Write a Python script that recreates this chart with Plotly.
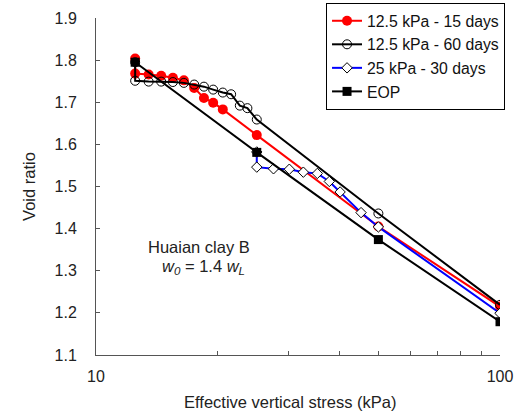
import plotly.graph_objects as go

# 12.5 kPa - 15 days
red_x = [12.5, 12.5, 13.5, 14.5, 15.5, 16.5, 17.5, 18.5, 19.5, 20.6, 25, 50, 100]
red_y = [1.804, 1.768, 1.766, 1.763, 1.758, 1.752, 1.734, 1.710, 1.699, 1.683, 1.622, 1.405, 1.215]

# 12.5 kPa - 60 days
blk_x = [12.5, 12.5, 13.5, 14.5, 15.5, 16.5, 17.5, 18.5, 19.5, 20.6, 21.6, 22.7, 23.7, 25, 50, 100]
blk_y = [1.795, 1.751, 1.749, 1.749, 1.748, 1.746, 1.742, 1.737, 1.730, 1.723, 1.719, 1.692, 1.686, 1.659, 1.436, 1.219]

# 25 kPa - 30 days
blu_x = [25, 25, 27.5, 30.1, 32.6, 35.3, 37.8, 40.2, 45.3, 50, 100]
blu_y = [1.582, 1.546, 1.542, 1.541, 1.534, 1.531, 1.512, 1.487, 1.438, 1.404, 1.199]

# EOP
eop_x = [12.5, 25, 50, 100]
eop_y = [1.795, 1.581, 1.374, 1.179]

x_major = [10, 100]
x_major_text = ["10", "100"]
x_minor = [20, 30, 40, 50, 60, 70, 80, 90]
y_tickvals = [1.1, 1.2, 1.3, 1.4, 1.5, 1.6, 1.7, 1.8, 1.9]

FONT = "Liberation Sans, Arial, sans-serif"
TXT = "#222222"

fig = go.Figure()
fig.add_trace(go.Scatter(
    x=red_x, y=red_y, mode="lines+markers", name="12.5 kPa - 15 days",
    legendgroup="a",
    line=dict(color="#ff0000", width=2),
    marker=dict(symbol="circle", size=10, color="#ff0000"),
))
fig.add_trace(go.Scatter(
    x=blk_x, y=blk_y, mode="lines+markers", name="12.5 kPa - 60 days",
    legendgroup="b",
    line=dict(color="#000000", width=2),
    marker=dict(symbol="circle-open", size=9, color="#000000", line=dict(width=1)),
))
fig.add_trace(go.Scatter(
    x=blu_x, y=blu_y, mode="lines+markers", name="25 kPa - 30 days",
    legendgroup="c",
    line=dict(color="#0000ff", width=2),
    marker=dict(symbol="diamond", size=8, color="white", line=dict(color="#000000", width=1)),
))
fig.add_trace(go.Scatter(
    x=eop_x, y=eop_y, mode="lines+markers", name="EOP",
    legendgroup="d",
    line=dict(color="#000000", width=2),
    marker=dict(symbol="square", size=9, color="#000000"),
))

# plot region: x 96..500 px, y 18..355 px; paper region: x 96..515, y 3..355
fig.update_layout(
    width=521, height=417,
    margin=dict(l=96, r=6, t=3, b=62, autoexpand=False),
    paper_bgcolor="white", plot_bgcolor="white",
    font=dict(family=FONT, size=16, color=TXT),
    legend=dict(
        x=0.549, y=1.0, xanchor="left", yanchor="top",
        bordercolor="#000000", borderwidth=1, bgcolor="white",
        font=dict(size=15.8, color="#111111"),
        tracegroupgap=0, traceorder="grouped",
    ),
    xaxis=dict(
        type="log", range=[1, 2], domain=[0, 404 / 419],
        tickvals=x_major, ticktext=x_major_text,
        ticks="inside", ticklen=4, tickcolor="#555555",
        minor=dict(tickvals=x_minor, ticks="inside", ticklen=4,
                   tickcolor="#555555", showgrid=False),
        showline=True, linecolor="#555555", linewidth=1,
        showgrid=False, zeroline=False,
        ticklabelstandoff=7,
        tickfont=dict(size=16, color=TXT),
    ),
    yaxis=dict(
        range=[1.1, 1.9], domain=[0, 337 / 352],
        tickvals=y_tickvals, tickformat=".1f",
        ticks="inside", ticklen=4, tickcolor="#555555",
        showline=True, linecolor="#555555", linewidth=1,
        showgrid=False, zeroline=False,
        ticklabelstandoff=15,
        tickfont=dict(size=16, color=TXT),
        title=dict(text="Void ratio", standoff=14, font=dict(size=16.5, color=TXT)),
    ),
    annotations=[
        dict(text="Effective vertical stress (kPa)", xref="paper", yref="paper",
             x=0.463, y=-0.134, xanchor="center", yanchor="middle", showarrow=False,
             font=dict(size=16.5, color=TXT)),
        dict(text="Huaian clay B", xref="paper", yref="paper",
             x=0.246, y=0.307, xanchor="center", yanchor="middle", showarrow=False,
             font=dict(size=16.5, color=TXT)),
        dict(text="<i>w<sub>0</sub></i> = 1.4 <i>w<sub>L</sub></i>", xref="paper", yref="paper",
             x=0.256, y=0.251, xanchor="center", yanchor="middle", showarrow=False,
             font=dict(size=16.5, color=TXT)),
    ],
)

fig.write_html("out.html")
